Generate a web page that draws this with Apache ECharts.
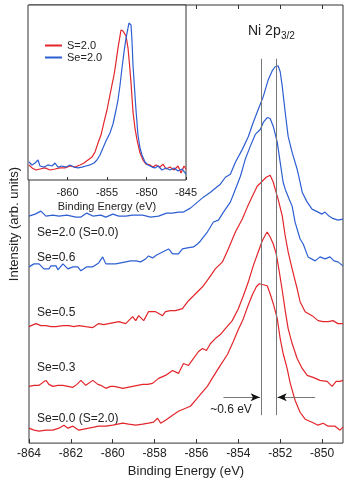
<!DOCTYPE html>
<html>
<head>
<meta charset="UTF-8">
<title>Ni 2p3/2</title>
<script src="https://cdn.jsdelivr.net/npm/echarts@6/dist/echarts.min.js"></script>
<style>
  html, body { margin: 0; padding: 0; background: #fff; }
  #chart { width: 346px; height: 483px; }
</style>
</head>
<body>
<div id="chart"></div>
<script>
// main panel: [binding energy (eV), intensity (arb.)], curves stacked with offsets
var se20 = [[-864,22.8],[-863.71,23.0],[-863.43,23.3],[-863.19,22.8],[-862.86,22.9],[-862.57,22.8],[-862.19,22.9],[-861.76,22.7],[-861.52,22.7],[-861.24,23.1],[-860.95,22.8],[-860.57,22.9],[-860.33,22.7],[-860.0,23.0],[-859.71,22.8],[-859.38,22.8],[-859.05,22.9],[-858.57,22.9],[-858.19,22.7],[-857.81,22.8],[-857.43,23.1],[-857.14,23.1],[-856.86,23.2],[-856.62,23.2],[-856.29,23.6],[-855.95,24.2],[-855.67,24.7],[-855.33,25.2],[-855.10,25.6],[-854.86,26.0],[-854.62,26.7],[-854.38,27.0],[-854.14,28.2],[-853.81,29.5],[-853.52,30.8],[-853.29,32.2],[-853.05,33.5],[-852.81,34.8],[-852.57,36.5],[-852.38,37.4],[-852.24,37.8],[-852.10,37.9],[-852.0,37.3],[-851.90,35.8],[-851.76,33.2],[-851.62,30.8],[-851.43,29.2],[-851.19,27.5],[-851.05,26.2],[-850.95,25.2],[-850.71,24.2],[-850.48,23.5],[-850.19,23.2],[-850.0,23.0],[-849.86,23.2],[-849.67,22.8],[-849.52,22.6],[-849.24,22.4],[-849.0,22.5]];
var se06 = [[-864,17.7],[-863.76,18.0],[-863.52,18.0],[-863.29,17.5],[-863.05,17.5],[-862.95,17.8],[-862.71,17.8],[-862.62,17.4],[-862.38,18.0],[-862.14,17.5],[-861.90,17.7],[-861.67,17.7],[-861.52,17.3],[-861.24,17.7],[-860.95,17.7],[-860.67,18.1],[-860.48,18.7],[-860.33,18.0],[-860.10,18.0],[-859.86,18.0],[-859.62,18.1],[-859.38,18.2],[-859.14,18.3],[-858.90,18.3],[-858.67,18.2],[-858.43,18.5],[-858.29,18.8],[-858.10,18.6],[-857.90,18.9],[-857.62,19.2],[-857.33,19.5],[-857.14,19.0],[-856.86,19.0],[-856.67,19.5],[-856.43,19.6],[-856.14,19.7],[-855.95,20.0],[-855.81,20.3],[-855.48,21.2],[-855.19,22.2],[-854.95,22.4],[-854.71,23.2],[-854.38,24.2],[-854.14,25.5],[-853.90,26.8],[-853.67,28.5],[-853.43,29.8],[-853.19,31.0],[-852.95,31.5],[-852.81,32.2],[-852.62,32.7],[-852.48,32.6],[-852.33,31.8],[-852.14,30.2],[-852.0,28.2],[-851.86,26.2],[-851.76,25.5],[-851.57,24.5],[-851.43,23.8],[-851.29,22.2],[-851.05,20.5],[-850.90,20.0],[-850.67,18.7],[-850.33,18.3],[-850.10,18.7],[-849.86,18.5],[-849.62,18.7],[-849.43,18.3],[-849.24,18.2],[-849.0,17.8]];
var se05 = [[-864,11.7],[-863.67,12.0],[-863.43,11.8],[-863.19,11.8],[-862.95,11.7],[-862.71,11.7],[-862.38,11.8],[-862.10,11.8],[-861.86,11.7],[-861.62,11.8],[-861.29,11.7],[-860.95,11.6],[-860.67,12.0],[-860.43,11.9],[-860.19,12.0],[-859.95,12.1],[-859.71,12.2],[-859.38,12.0],[-859.05,12.7],[-858.90,12.3],[-858.76,12.8],[-858.52,12.3],[-858.29,13.2],[-858.10,13.2],[-857.95,13.2],[-857.62,12.8],[-857.48,13.2],[-857.24,13.3],[-857.0,13.3],[-856.67,13.5],[-856.38,14.3],[-856.14,14.8],[-855.71,15.7],[-855.43,16.5],[-855.10,17.5],[-854.76,18.2],[-854.48,19.5],[-854.14,21.2],[-853.81,22.5],[-853.57,23.7],[-853.33,24.8],[-853.10,25.8],[-852.86,26.3],[-852.67,26.7],[-852.48,26.9],[-852.33,26.2],[-852.24,25.5],[-852.10,24.5],[-851.90,22.8],[-851.76,20.8],[-851.62,19.2],[-851.43,17.5],[-851.19,15.5],[-851.05,14.2],[-850.81,13.2],[-850.48,12.8],[-850.19,12.3],[-849.95,12.2],[-849.71,12.2],[-849.48,12.3],[-849.24,12.0],[-849.0,12.0]];
var se03 = [[-864,5.7],[-863.76,5.8],[-863.52,5.8],[-863.33,6.1],[-863.19,6.3],[-863.05,5.9],[-862.86,5.7],[-862.62,5.8],[-862.38,5.8],[-862.14,5.7],[-861.90,5.6],[-861.71,5.9],[-861.52,6.3],[-861.29,5.8],[-860.95,6.3],[-860.71,5.9],[-860.57,5.8],[-860.33,5.5],[-860.10,5.7],[-859.95,5.7],[-859.71,5.6],[-859.52,5.5],[-859.29,5.6],[-859.05,5.7],[-858.81,5.8],[-858.57,5.9],[-858.33,5.9],[-858.10,6.0],[-857.81,6.5],[-857.48,6.8],[-857.14,7.3],[-856.86,7.0],[-856.62,8.0],[-856.38,7.8],[-856.14,8.5],[-855.90,9.2],[-855.71,9.5],[-855.52,9.3],[-855.33,10.0],[-855.10,10.5],[-854.86,10.9],[-854.62,11.5],[-854.29,12.3],[-854.0,13.5],[-853.76,14.8],[-853.52,16.2],[-853.29,17.8],[-853.05,19.2],[-852.86,20.3],[-852.71,20.9],[-852.62,21.2],[-852.48,20.7],[-852.33,20.0],[-852.19,19.0],[-852.05,17.3],[-851.90,15.3],[-851.76,13.3],[-851.62,11.5],[-851.43,10.0],[-851.19,8.5],[-850.95,7.5],[-850.71,6.8],[-850.43,6.6],[-850.10,6.3],[-849.76,6.2],[-849.52,5.7],[-849.33,6.2],[-849.14,6.2],[-849.0,6.3]];
var se00 = [[-864,1.5],[-863.76,1.3],[-863.52,1.2],[-863.19,1.3],[-862.86,1.3],[-862.57,1.5],[-862.33,1.8],[-862.14,1.5],[-861.90,1.7],[-861.62,1.3],[-861.38,1.4],[-861.14,1.5],[-860.90,1.6],[-860.67,1.7],[-860.33,1.7],[-860.0,1.8],[-859.76,1.9],[-859.52,2.0],[-859.24,1.9],[-858.90,1.8],[-858.57,1.9],[-858.29,2.0],[-858.05,2.1],[-857.86,2.5],[-857.71,2.0],[-857.48,2.3],[-857.14,2.8],[-856.86,3.2],[-856.52,3.5],[-856.29,3.7],[-856.05,4.3],[-855.81,4.9],[-855.48,5.7],[-855.19,6.7],[-854.86,7.8],[-854.52,8.9],[-854.24,10.2],[-854.0,11.4],[-853.76,12.5],[-853.52,13.9],[-853.33,14.9],[-853.14,15.7],[-853.0,16.0],[-852.81,15.9],[-852.62,15.8],[-852.48,15.0],[-852.33,14.0],[-852.14,12.5],[-852.0,10.5],[-851.86,9.0],[-851.67,7.5],[-851.52,6.0],[-851.29,4.3],[-851.05,3.1],[-850.81,2.4],[-850.48,2.1],[-850.19,1.8],[-849.95,2.0],[-849.71,1.7],[-849.38,1.7],[-849.14,1.3],[-849.0,1.6]];

// inset: normalised spectra
var insetS20 = [[-864.87,0.086],[-864.49,0.069],[-863.99,0.057],[-863.48,0.063],[-862.85,0.069],[-862.22,0.057],[-861.58,0.063],[-860.95,0.069],[-860.32,0.069],[-859.68,0.080],[-859.05,0.074],[-858.42,0.086],[-857.91,0.097],[-857.41,0.114],[-856.90,0.131],[-856.52,0.160],[-856.14,0.211],[-855.76,0.257],[-855.38,0.331],[-855.0,0.400],[-854.62,0.486],[-854.37,0.543],[-854.11,0.600],[-853.86,0.674],[-853.61,0.754],[-853.35,0.823],[-853.23,0.857],[-852.97,0.851],[-852.72,0.851],[-852.59,0.823],[-852.34,0.754],[-852.09,0.629],[-851.96,0.554],[-851.71,0.389],[-851.46,0.297],[-851.20,0.229],[-850.82,0.154],[-850.44,0.114],[-850.06,0.091],[-849.56,0.086],[-849.18,0.074],[-848.80,0.086],[-848.29,0.074],[-847.91,0.091],[-847.53,0.063],[-847.03,0.074],[-846.52,0.057],[-846.01,0.080],[-845.63,0.040],[-845.25,0.080],[-845.0,0.063]];
var insetSe20 = [[-864.87,0.103],[-864.49,0.086],[-864.11,0.097],[-863.73,0.114],[-863.48,0.080],[-862.97,0.074],[-862.47,0.086],[-861.96,0.080],[-861.58,0.097],[-861.20,0.074],[-860.70,0.080],[-860.19,0.074],[-859.68,0.086],[-859.18,0.074],[-858.67,0.069],[-858.16,0.074],[-857.66,0.080],[-857.15,0.086],[-856.65,0.097],[-856.27,0.114],[-855.89,0.143],[-855.51,0.183],[-855.13,0.223],[-854.62,0.269],[-854.24,0.320],[-853.86,0.400],[-853.61,0.457],[-853.35,0.543],[-853.10,0.640],[-852.85,0.731],[-852.59,0.811],[-852.34,0.869],[-852.22,0.897],[-851.96,0.886],[-851.84,0.800],[-851.71,0.657],[-851.46,0.486],[-851.33,0.400],[-851.08,0.257],[-850.82,0.183],[-850.57,0.143],[-850.19,0.103],[-849.81,0.086],[-849.30,0.074],[-848.92,0.069],[-848.54,0.080],[-848.04,0.057],[-847.53,0.069],[-847.03,0.057],[-846.52,0.069],[-846.01,0.051],[-845.51,0.063],[-845.0,0.034]];

var curveNames = ['Se=2.0 (S=0.0)', 'Se=0.6', 'Se=0.5', 'Se=0.3', 'Se=0.0 (S=2.0)'];
var insetNames = ['S=2.0', 'Se=2.0'];
var topTicks = [-856, -854, -852, -850];
var peakLines = [-852.9, -852.2];   // peak positions marked with vertical lines
var shiftText = '~0.6 eV';

var RED = '#e3262b', BLUE = '#2d5fd2';
var FONT = 'Liberation Sans';

var chart = echarts.init(document.getElementById('chart'), null, { renderer: 'canvas' });

function curve(name, data, color, xi, yi) {
  return {
    name: name, type: 'line', data: data,
    xAxisIndex: xi, yAxisIndex: yi,
    showSymbol: false, symbol: 'none', animation: false,
    lineStyle: { color: color, width: 1.2 },
    itemStyle: { color: color }
  };
}

var guideStyle = { color: '#777', width: 1, type: 'solid' };
var headStyle = { color: '#111', width: 1, type: 'solid' };

var series = [
  curve(curveNames[0], se20, BLUE, 0, 0),
  curve(curveNames[1], se06, BLUE, 0, 0),
  curve(curveNames[2], se05, RED, 0, 0),
  curve(curveNames[3], se03, RED, 0, 0),
  curve(curveNames[4], se00, RED, 0, 0),
  curve(insetNames[0], insetS20, RED, 2, 1),
  curve(insetNames[1], insetSe20, BLUE, 2, 1)
];

// vertical peak lines, arrow shafts (grey) and arrow heads (black)
series[0].markLine = {
  silent: true, animation: false,
  symbol: ['none', 'none'],
  label: { show: false },
  lineStyle: guideStyle,
  data: [
    [{ coord: [peakLines[0], 2.8] }, { coord: [peakLines[0], 38.6] }],
    [{ coord: [peakLines[1], 2.8] }, { coord: [peakLines[1], 38.6] }],
    [{ coord: [-854.71, 4.6] }, { coord: [peakLines[0] - 0.35, 4.6] }],
    [{ coord: [-850.33, 4.6] }, { coord: [peakLines[1] + 0.35, 4.6] }],
    [{ coord: [peakLines[0] - 0.4, 4.6], symbol: 'none', lineStyle: headStyle },
     { coord: [peakLines[0] - 0.08, 4.6], symbol: 'arrow', symbolSize: [6, 9], lineStyle: headStyle }],
    [{ coord: [peakLines[1] + 0.4, 4.6], symbol: 'none', lineStyle: headStyle },
     { coord: [peakLines[1] + 0.08, 4.6], symbol: 'arrow', symbolSize: [6, 9], lineStyle: headStyle }]
  ]
};

var option = {
  backgroundColor: '#fff',
  animation: false,
  textStyle: { fontFamily: FONT },
  grid: [
    { left: 28, top: 5, width: 315, height: 440, show: true, borderColor: '#333', borderWidth: 1, backgroundColor: 'transparent' },
    { left: 28, top: 5, width: 158, height: 175, show: true, borderColor: '#333', borderWidth: 1, backgroundColor: '#fff' }
  ],
  legend: {
    data: insetNames,
    orient: 'vertical', left: 40, top: 35,
    icon: 'rect', itemWidth: 17, itemHeight: 2, itemGap: 1,
    textStyle: { fontFamily: FONT, fontSize: 11, color: '#222' }
  },
  xAxis: [
    {
      gridIndex: 0, type: 'value', position: 'bottom',
      min: -864, max: -849, interval: 2,
      axisLine: { show: false },
      axisTick: { show: true, inside: true, length: 4, lineStyle: { color: '#333' } },
      splitLine: { show: false },
      axisLabel: { color: '#222', fontSize: 12, margin: 5, showMaxLabel: false, fontFamily: FONT },
      name: 'Binding Energy (eV)', nameLocation: 'middle', nameGap: 21,
      nameTextStyle: { color: '#222', fontSize: 13, fontFamily: FONT }
    },
    {
      gridIndex: 0, type: 'value', position: 'top',
      min: -864, max: -849,
      axisLine: { show: false },
      axisTick: { show: true, inside: true, length: 4, customValues: topTicks, lineStyle: { color: '#333' } },
      axisLabel: { show: false },
      splitLine: { show: false }
    },
    {
      gridIndex: 1, type: 'value', position: 'bottom',
      min: -865, max: -845, interval: 5,
      axisLine: { show: false },
      axisTick: { show: true, inside: true, length: 3, lineStyle: { color: '#333' } },
      splitLine: { show: false },
      axisLabel: { color: '#222', fontSize: 11, margin: 7, showMinLabel: false, fontFamily: FONT },
      name: 'Binding Energy (eV)', nameLocation: 'middle', nameGap: 21,
      nameTextStyle: { color: '#222', fontSize: 11, fontFamily: FONT }
    }
  ],
  yAxis: [
    {
      gridIndex: 0, type: 'value', min: 0, max: 44,
      axisLine: { show: false }, axisTick: { show: false },
      axisLabel: { show: false }, splitLine: { show: false },
      name: 'Intensity (arb. units)', nameLocation: 'middle', nameGap: 8,
      nameTextStyle: { color: '#222', fontSize: 13, fontFamily: FONT }
    },
    {
      gridIndex: 1, type: 'value', min: 0, max: 1,
      axisLine: { show: false }, axisTick: { show: false },
      axisLabel: { show: false }, splitLine: { show: false }
    }
  ],
  graphic: [
    { type: 'text', x: 248, y: 31, style: { text: 'Ni 2p', font: '14px ' + FONT, fill: '#222', textVerticalAlign: 'middle' } },
    { type: 'text', x: 281, y: 36, style: { text: '3/2', font: '10px ' + FONT, fill: '#222', textVerticalAlign: 'middle' } },
    { type: 'text', x: 37, y: 233, style: { text: curveNames[0], font: '12px ' + FONT, fill: '#222', textVerticalAlign: 'middle' } },
    { type: 'text', x: 37, y: 258, style: { text: curveNames[1], font: '12px ' + FONT, fill: '#222', textVerticalAlign: 'middle' } },
    { type: 'text', x: 37, y: 313, style: { text: curveNames[2], font: '12px ' + FONT, fill: '#222', textVerticalAlign: 'middle' } },
    { type: 'text', x: 37, y: 368, style: { text: curveNames[3], font: '12px ' + FONT, fill: '#222', textVerticalAlign: 'middle' } },
    { type: 'text', x: 37, y: 419, style: { text: curveNames[4], font: '12px ' + FONT, fill: '#222', textVerticalAlign: 'middle' } },
    { type: 'text', x: 231, y: 410, style: { text: shiftText, font: '12px ' + FONT, fill: '#222', textAlign: 'center', textVerticalAlign: 'middle' } }
  ],
  series: series
};

chart.setOption(option);
</script>
</body>
</html>
